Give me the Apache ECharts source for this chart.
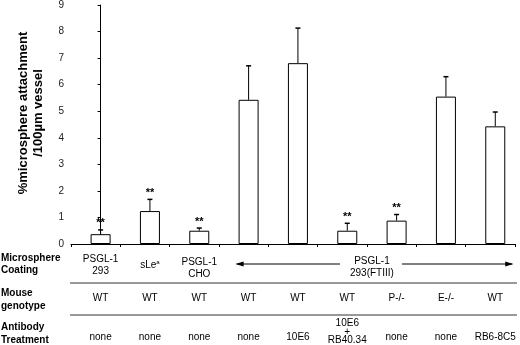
<!DOCTYPE html>
<html>
<head>
<meta charset="utf-8">
<script src="https://cdn.jsdelivr.net/npm/echarts@6/dist/echarts.min.js"></script>
<style>
  html, body { margin: 0; padding: 0; background: #fff; }
  #chart { width: 520px; height: 345px; }
</style>
</head>
<body>
<div id="chart"></div>
<script>
// bar means and upper error bar ends, one per group (left to right)
const meanValues = [0.37, 1.24, 0.50, 5.43, 6.81, 0.50, 0.88, 5.55, 4.43];
const errorTops = [0.53, 1.68, 0.60, 6.71, 8.13, 0.78, 1.11, 6.30, 4.97];
const significant = [true, true, true, false, false, true, true, false, false];

// table under the chart
const rowLabels = ['Microsphere\nCoating', 'Mouse\ngenotype', 'Antibody\nTreatment'];
const coatingLabels = ['PSGL-1\n293', 'sLe', 'PSGL-1\nCHO'];
const sharedCoating = 'PSGL-1\n293(FTIII)';
const genotypes = ['WT', 'WT', 'WT', 'WT', 'WT', 'WT', 'P-/-', 'E-/-', 'WT'];
const treatments = ['none', 'none', 'none', 'none', '10E6', '10E6\n+\nRB40.34', 'none', 'none', 'RB6-8C5'];

const yTitle = '%microsphere attachment\n/100µm vessel';

const FONT = '"Liberation Sans", Arial, sans-serif';
const chart = echarts.init(document.getElementById('chart'));

chart.setOption({
  animation: false,
  grid: { left: 71, right: 5, top: 2, bottom: 101 },
  xAxis: {
    type: 'value',
    min: -0.6,
    max: 8.4,
    interval: 1,
    axisLine: { show: true, lineStyle: { color: '#000', width: 1 } },
    axisTick: { show: true, length: 3, lineStyle: { color: '#000' } },
    axisLabel: { show: false },
    splitLine: { show: false }
  },
  yAxis: {
    type: 'value',
    min: 0,
    max: 9,
    interval: 1,
    axisLine: { show: true, lineStyle: { color: '#000', width: 1 } },
    axisTick: { show: true, length: 3, lineStyle: { color: '#000' } },
    axisLabel: { color: '#222', fontSize: 10, fontFamily: FONT, margin: 7 },
    splitLine: { show: false }
  },
  series: [
    {
      type: 'bar',
      barWidth: 20,
      data: meanValues.map((v, i) => [i, v]),
      itemStyle: { color: '#fff', borderColor: '#000', borderWidth: 1 }
    },
    {
      type: 'custom',
      data: errorTops.map((e, i) => [i, meanValues[i], e, significant[i] ? 1 : 0]),
      renderItem: function (params, api) {
        const base = api.coord([api.value(0), api.value(1)]);
        const top = api.coord([api.value(0), api.value(2)]);
        const children = [
          { type: 'line', shape: { x1: base[0], y1: base[1], x2: top[0], y2: top[1] }, style: { stroke: '#000', lineWidth: 1 } },
          { type: 'line', shape: { x1: top[0] - 2.5, y1: top[1], x2: top[0] + 2.5, y2: top[1] }, style: { stroke: '#000', lineWidth: 1.5 } }
        ];
        if (api.value(3)) {
          children.push({
            type: 'text',
            style: {
              x: top[0], y: top[1] - 6.5, text: '**',
              textAlign: 'center', textVerticalAlign: 'middle',
              font: 'bold 11px ' + FONT, fill: '#000'
            }
          });
        }
        return { type: 'group', children: children };
      }
    }
  ]
});

// table built from the axis positions of each group
const px = i => chart.convertToPixel({ xAxisIndex: 0 }, i);
const graphics = [];
const addText = (x, y, text, font, align, lineHeight) => {
  graphics.push({
    type: 'text', x: x, y: y,
    style: { text: text, font: font, fill: '#000', textAlign: align || 'center', textVerticalAlign: 'middle', lineHeight: lineHeight || 12 }
  });
};

// y axis title
graphics.push({
  type: 'text', x: 31, y: 113, rotation: Math.PI / 2,
  style: { text: yTitle, font: 'bold 13px ' + FONT, fill: '#000', textAlign: 'center', textVerticalAlign: 'middle', lineHeight: 15 }
});

const rowY = [264, 299.5, 333.5];
rowLabels.forEach((t, r) => addText(1, rowY[r], t, 'bold 10px ' + FONT, 'left', 12.5));

// coating row
addText(px(0), 265.5, coatingLabels[0], '10px ' + FONT);
graphics.push({
  type: 'text', x: px(1), y: 265,
  style: {
    text: '{n|' + coatingLabels[1] + '}{s|a}',
    textAlign: 'center', textVerticalAlign: 'middle',
    rich: {
      n: { font: '10px ' + FONT, fill: '#000', lineHeight: 12 },
      s: { font: '6px ' + FONT, fill: '#000', verticalAlign: 'top', lineHeight: 12 }
    }
  }
});
addText(px(2), 268.5, coatingLabels[2], '10px ' + FONT);
const midX = (px(5) + px(6)) / 2;
addText(midX, 267, sharedCoating, '10px ' + FONT);
const arrowY = 264;
const leftEnd = px(3) - 12;
const rightEnd = px(8) + 17;
graphics.push(
  { type: 'line', shape: { x1: leftEnd, y1: arrowY, x2: midX - 32, y2: arrowY }, style: { stroke: '#000', lineWidth: 1 } },
  { type: 'line', shape: { x1: midX + 30, y1: arrowY, x2: rightEnd, y2: arrowY }, style: { stroke: '#000', lineWidth: 1 } },
  { type: 'polygon', shape: { points: [[leftEnd - 1, arrowY], [leftEnd + 7, arrowY - 2.5], [leftEnd + 7, arrowY + 2.5]] }, style: { fill: '#000' } },
  { type: 'polygon', shape: { points: [[rightEnd + 1, arrowY], [rightEnd - 7, arrowY - 2.5], [rightEnd - 7, arrowY + 2.5]] }, style: { fill: '#000' } }
);

// separators
[283, 315].forEach(y => graphics.push({
  type: 'line', shape: { x1: 70, y1: y, x2: 517, y2: y }, style: { stroke: '#333', lineWidth: 1 }
}));

genotypes.forEach((g, i) => addText(px(i), 298, g, '10px ' + FONT));
treatments.forEach((t, i) => addText(px(i), t.indexOf('\n') >= 0 ? 332 : 337, t, '10px ' + FONT, 'center', 8.5));

chart.setOption({ graphic: graphics });
</script>
</body>
</html>
